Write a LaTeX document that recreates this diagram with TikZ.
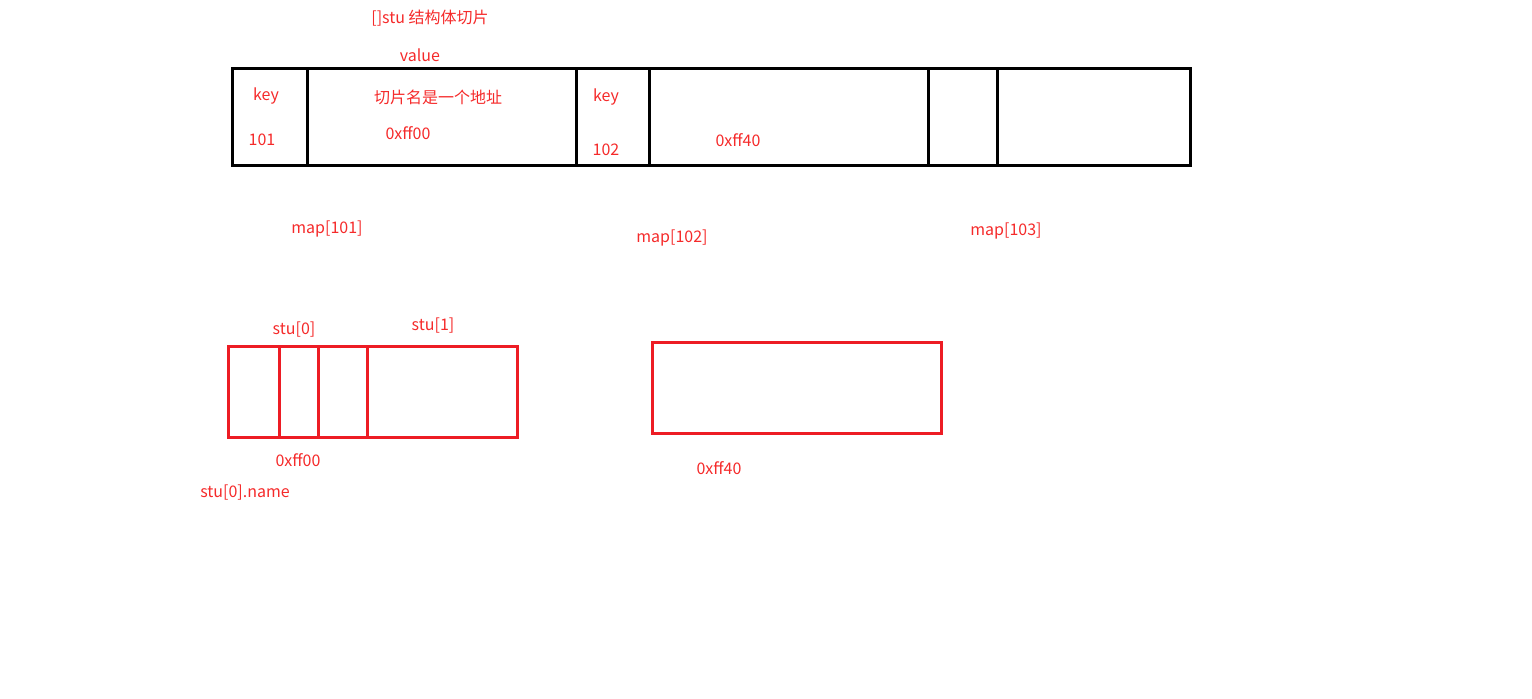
\documentclass[tikz,border=0pt]{standalone}
\usepackage{fontspec}
\setmainfont{Noto Sans CJK SC}
\definecolor{lred}{HTML}{ED1C24}
\definecolor{tred}{HTML}{F52A2A}
\tikzset{
  lbl/.style={text=tred, font=\fontsize{16}{19}\selectfont, inner sep=0pt, anchor=center},
  blk/.style={draw=black, line width=3pt},
  rbox/.style={draw=lred, line width=3pt}
}
\begin{document}
\begin{tikzpicture}[x=1pt,y=-1pt]
\useasboundingbox (0,0) rectangle (1532,699);
% top black map
\draw[blk] (232,68) rectangle (1190,165);
\draw[blk] (307,68) -- (307,167);
\draw[blk] (576,68) -- (576,167);
\draw[blk] (649,70) -- (649,165);
\draw[blk] (928,68) -- (928,167);
\draw[blk] (997,68) -- (997,165);
% red boxes
\draw[rbox] (228,346) rectangle (517,437);
\draw[rbox] (279,346) -- (279,439);
\draw[rbox] (318,346) -- (318,439);
\draw[rbox] (367,346) -- (367,437);
\draw[rbox] (652,342) rectangle (941,433);
% labels
\node[lbl] (title) at (430,18) {[]stu 结构体切片};
\node[lbl] (value) at (420,55) {value};
\node[lbl] (key1) at (266,96) {key};
\node[lbl] (k101) at (262,140) {101};
\node[lbl] (desc) at (438,97) {切片名是一个地址};
\node[lbl] (addr1) at (408,133) {0xff00};
\node[lbl] (key2) at (606,97) {key};
\node[lbl] (k102) at (606,150) {102};
\node[lbl] (addr2) at (738,140) {0xff40};
\node[lbl] (m101) at (327,229) {map[101]};
\node[lbl] (m102) at (672,238) {map[102]};
\node[lbl] (m103) at (1006,231) {map[103]};
\node[lbl] (s0) at (294,330) {stu[0]};
\node[lbl] (s1) at (433,326) {stu[1]};
\node[lbl] (a0) at (298,460) {0xff00};
\node[lbl] (s0n) at (245,493) {stu[0].name};
\node[lbl] (a1) at (719,468) {0xff40};
\end{tikzpicture}
\end{document}
